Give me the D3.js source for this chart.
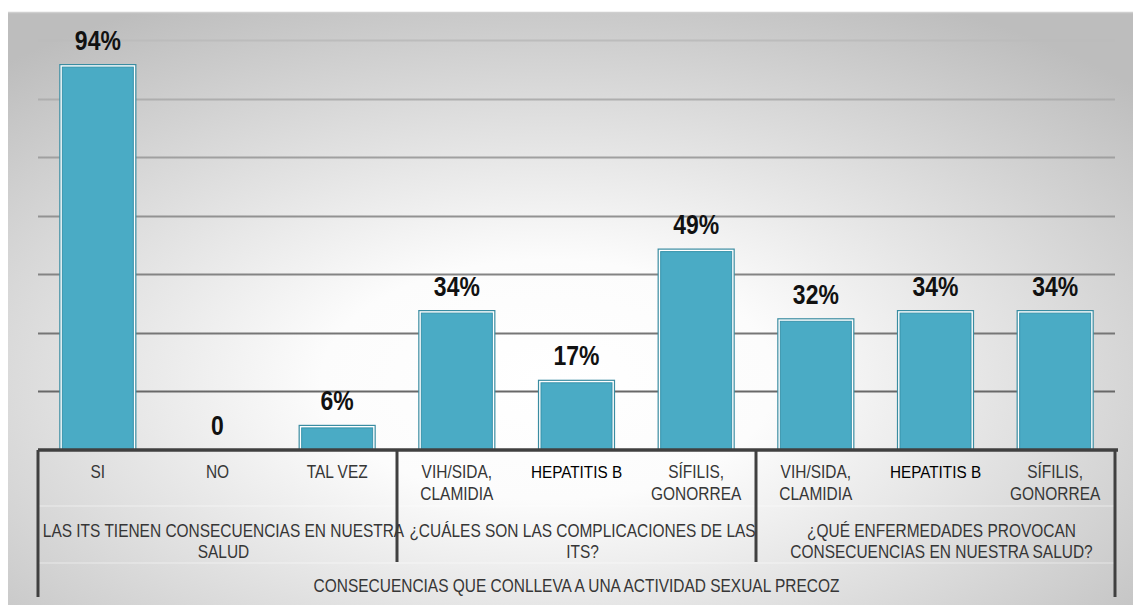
<!DOCTYPE html>
<html><head><meta charset="utf-8">
<script src="https://cdn.jsdelivr.net/npm/d3@7/dist/d3.min.js"></script>
<style>html,body{margin:0;padding:0;background:#fff;}svg{display:block;}</style>
</head><body>
<svg id="chart" width="1133" height="605"></svg>
<script>
const categories = ["SI","NO","TAL VEZ","VIH/SIDA,\nCLAMIDIA","HEPATITIS B","SÍFILIS,\nGONORREA","VIH/SIDA,\nCLAMIDIA ","HEPATITIS B ","SÍFILIS,\nGONORREA "];
const values = [0.94, 0, 0.06, 0.34, 0.17, 0.49, 0.32, 0.34, 0.34];
const valueLabels = ["94%","0","6%","34%","17%","49%","32%","34%","34%"];
const groups = ["LAS ITS TIENEN CONSECUENCIAS EN NUESTRA\nSALUD","¿CUÁLES SON LAS COMPLICACIONES DE LAS\nITS?","¿QUÉ ENFERMEDADES PROVOCAN\nCONSECUENCIAS EN NUESTRA SALUD?"];
const groupSizes = [3, 3, 3];
const title = "CONSECUENCIAS QUE CONLLEVA A UNA ACTIVIDAD SEXUAL PRECOZ";
const gridSteps = 7;

(function () {
const svg = d3.select("#chart");
const defs = svg.append("defs");
const rg = defs.append("radialGradient").attr("id","bg").attr("cx","48%").attr("cy","62%").attr("r","72%");
rg.append("stop").attr("offset","0%").attr("stop-color","#ffffff");
rg.append("stop").attr("offset","28%").attr("stop-color","#fcfcfc");
rg.append("stop").attr("offset","100%").attr("stop-color","#bdbdbd");

svg.append("rect").attr("x",8).attr("y",12).attr("width",1125).attr("height",593).attr("fill","url(#bg)");
svg.append("line").attr("x1",8).attr("x2",1133).attr("y1",12.5).attr("y2",12.5).attr("stroke","#cfcfcf").attr("stroke-width",1.5);

const pLeft = 38, pRight = 1115, base = 450, pTop = 40;
const x = d3.scaleBand().domain(categories).range([pLeft, pRight]).paddingInner(0.365).paddingOuter(0.1825);
const y = d3.scaleLinear().domain([0, 1]).range([base, pTop]);
const SX = 0.86;
const sans = "'Liberation Sans',Arial,sans-serif";

function condText(parent, cx, cy, lines, opts) {
  const t = parent.append("text")
    .attr("transform", `translate(${cx},${cy}) scale(${opts.sx || SX},1)`)
    .attr("text-anchor", "middle")
    .attr("font-family", sans)
    .attr("font-size", opts.size)
    .attr("font-weight", opts.weight || "normal")
    .attr("fill", opts.fill || "#363636");
  lines.forEach((ln, k) => t.append("tspan").attr("x", 0).attr("dy", k === 0 ? 0 : opts.lh).text(ln));
  return t;
}

// gridlines
const gridVals = d3.range(1, gridSteps + 1).map(i => i / gridSteps);
const gcol = d3.scaleLinear().domain([0, 1]).range(["#5a5a5a", "#bcbcbc"]);
svg.append("g").selectAll("line").data(gridVals).join("line")
  .attr("x1", pLeft).attr("x2", pRight)
  .attr("y1", d => Math.round(y(d)) + 0.5).attr("y2", d => Math.round(y(d)) + 0.5)
  .attr("stroke", d => gcol(d)).attr("stroke-width", 2);

// bars
const barData = categories.map((c, i) => ({c, v: values[i]})).filter(d => d.v > 0);
const bars = svg.append("g").selectAll("g").data(barData).join("g");
bars.append("rect")
  .attr("x", d => x(d.c)).attr("width", x.bandwidth())
  .attr("y", d => y(d.v))
  .attr("height", d => base - y(d.v))
  .attr("fill", "#ffffff").attr("stroke", "#3a8ca1").attr("stroke-width", 1.2);
bars.append("rect")
  .attr("x", d => x(d.c) + 2.5).attr("width", x.bandwidth() - 5)
  .attr("y", d => y(d.v) + 2.5)
  .attr("height", d => Math.max(0, base - y(d.v) - 2.5))
  .attr("fill", "#4aabc5").attr("stroke", "#3793ab").attr("stroke-width", 1);

// value labels
const vl = svg.append("g");
categories.forEach((c, i) => {
  condText(vl, x(c) + x.bandwidth() / 2, y(values[i]) - 15, [valueLabels[i]], {size: 28, weight: "bold", fill: "#111", sx: 0.82});
});

// axis structure
const lineCol = "#404040";
svg.append("line").attr("x1", pLeft).attr("x2", pRight + 3).attr("y1", base).attr("y2", base).attr("stroke", lineCol).attr("stroke-width", 3.5);
[506, 563].forEach(yy => svg.append("line").attr("x1", pLeft).attr("x2", pRight).attr("y1", yy).attr("y2", yy).attr("stroke", "#ffffff").attr("stroke-opacity", 0.5).attr("stroke-width", 1));

const step = x.step();
const bounds = [pLeft];
let acc = 0;
groupSizes.forEach(s => { acc += s; bounds.push(pLeft + acc * step); });
bounds.forEach((b, i) => {
  const outer = (i === 0 || i === bounds.length - 1);
  svg.append("line").attr("x1", b).attr("x2", b).attr("y1", base).attr("y2", outer ? 597 : 562)
    .attr("stroke", lineCol).attr("stroke-width", 3);
});

// category labels
const isHep = d => d.trim() === "HEPATITIS B";
const cl = svg.append("g");
categories.forEach(c => {
  const cx = x(c) + x.bandwidth() / 2;
  if (isHep(c)) {
    condText(cl, cx, 478, [c.trim()], {size: 17, fill: "#000", sx: 0.9});
  } else {
    condText(cl, cx, 478, c.trim().split("\n"), {size: 18, lh: 22});
  }
});

// group labels
const gl = svg.append("g");
groups.forEach((g, i) => {
  const cx = (bounds[i] + bounds[i + 1]) / 2 + 6;
  condText(gl, cx, 537, g.split("\n"), {size: 18, lh: 21});
});

// title
condText(svg, (pLeft + pRight) / 2, 592, [title], {size: 18});
})();
</script>
</body></html>
